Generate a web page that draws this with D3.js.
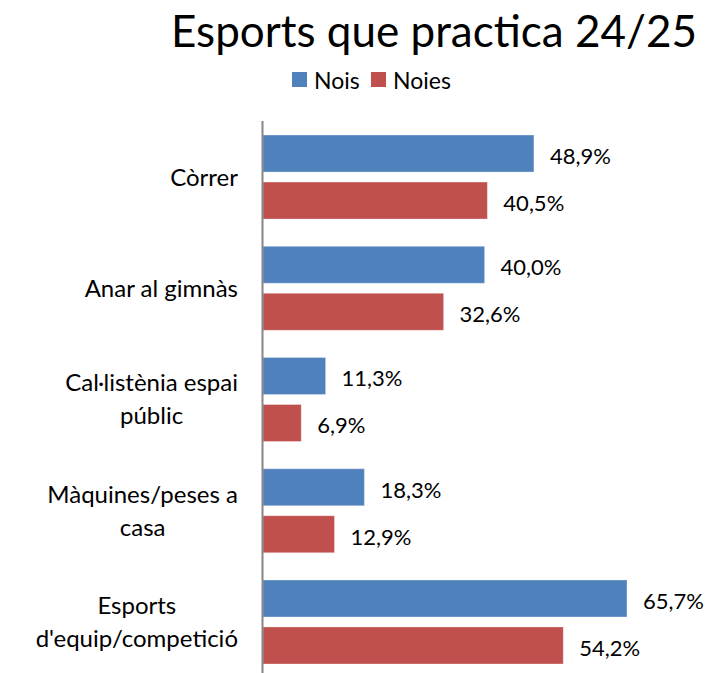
<!DOCTYPE html>
<html>
<head>
<meta charset="utf-8">
<script src="https://cdn.jsdelivr.net/npm/d3@7/dist/d3.min.js"></script>
<style>
  html, body { margin: 0; padding: 0; background: #fff; }
  svg { display: block; }
  text { font-family: Lato, Carlito, Calibri, sans-serif; fill: #000; }
</style>
</head>
<body>
<svg id="chart" width="713" height="673"></svg>
<script>
// values
const CATEGORIES = ['Còrrer', 'Anar al gimnàs', 'Cal·listènia espai públic', 'Màquines/peses a casa', "Esports d'equip/competició"];
const CATEGORY_LINES = [['Còrrer'], ['Anar al gimnàs'], ['Cal·listènia espai', 'públic'], ['Màquines/peses a', 'casa'], ['Esports', "d'equip/competició"]];
const SERIES = ['Nois', 'Noies'];
const NOIS = [48.9, 40.0, 11.3, 18.3, 65.7];
const NOIES = [40.5, 32.6, 6.9, 12.9, 54.2];
const COLORS = ['#4F81BD', '#C0504D'];

const TITLE = 'Esports que practica 24/25';

const svg = d3.select('#chart');

function label(parent, x, y, str, size, anchor = 'start') {
  return parent.append('text')
    .attr('x', x)
    .attr('y', y)
    .attr('text-anchor', anchor)
    .attr('dominant-baseline', 'central')
    .style('font-size', size + 'px')
    .text(str);
}

const x = d3.scaleLinear().domain([0, 70]).range([263, 263 + 70 * 5.54]);
const y = d3.scaleBand().domain(CATEGORIES).range([121.4, 677.6]).paddingInner(0.245).paddingOuter(0.1225);
const ySub = d3.scaleBand().domain(SERIES).range([0, y.bandwidth()]).paddingInner(0.213);
const color = d3.scaleOrdinal().domain(SERIES).range(COLORS);

const rows = CATEGORIES.map((c, i) => ({
  cat: c,
  lines: CATEGORY_LINES[i],
  vals: [{ s: 'Nois', v: NOIS[i] }, { s: 'Noies', v: NOIES[i] }],
}));

// title
label(svg, 434, 30, TITLE, 44, 'middle');

// legend
const legend = svg.append('g');
const legendX = [292, 371];
SERIES.forEach((s, i) => {
  legend.append('rect')
    .attr('x', legendX[i]).attr('y', 72)
    .attr('width', 15).attr('height', 15)
    .attr('fill', color(s));
  label(legend, legendX[i] + 22, 80, s, 23);
});

// bars
const groups = svg.append('g').selectAll('g.cat')
  .data(rows)
  .enter().append('g')
  .attr('class', 'cat')
  .attr('transform', (d) => `translate(0,${y(d.cat)})`);

groups.selectAll('rect')
  .data((d) => d.vals)
  .enter().append('rect')
  .attr('x', x(0))
  .attr('y', (d) => ySub(d.s))
  .attr('width', (d) => x(d.v) - x(0))
  .attr('height', ySub.bandwidth())
  .attr('fill', (d) => color(d.s))
  .attr('stroke', '#ffffff')
  .attr('stroke-opacity', 0.3)
  .attr('stroke-width', 1);

groups.each(function (d) {
  const g = d3.select(this);
  d.vals.forEach((v) => {
    label(g, x(v.v) + 16, ySub(v.s) + ySub.bandwidth() / 2 + 2, v.v.toFixed(1).replace('.', ',') + '%', 22);
  });
});

// category labels: block right-aligned to the axis, lines centred in the block
const labelRight = 238;
groups.each(function (d) {
  const g = d3.select(this);
  const mid = y.bandwidth() / 2;
  const lineH = 33;
  const texts = d.lines.map((line, i) => {
    const ly = mid - 1 + (i - (d.lines.length - 1) / 2) * lineH;
    return label(g, 0, ly, line, 24, 'middle');
  });
  const blockW = d3.max(texts, (t) => t.node().getComputedTextLength());
  texts.forEach((t) => t.attr('x', labelRight - blockW / 2));
});

// vertical category axis line
svg.append('line')
  .attr('x1', x(0) - 0.5).attr('x2', x(0) - 0.5)
  .attr('y1', 121).attr('y2', 673)
  .attr('stroke', '#868686')
  .attr('stroke-width', 2);
</script>
</body>
</html>
